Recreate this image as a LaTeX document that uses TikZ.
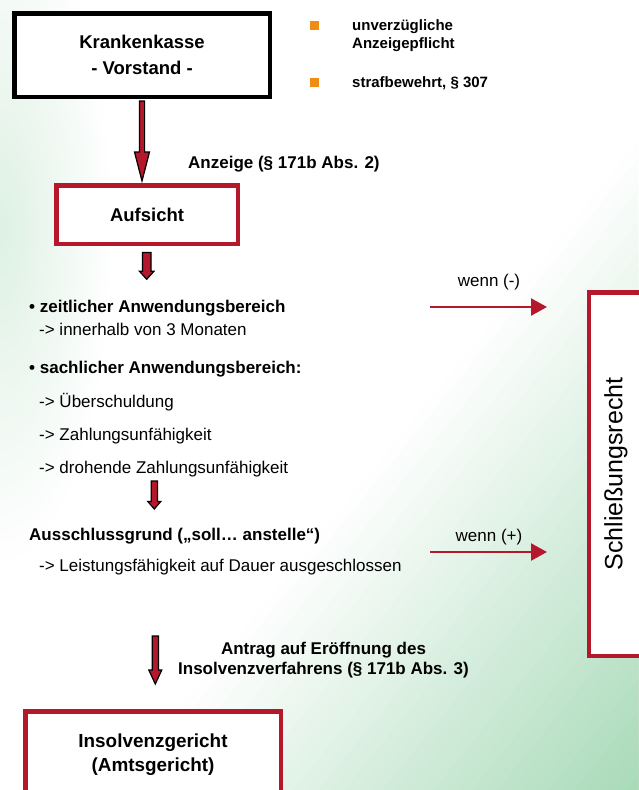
\documentclass[tikz,border=0pt]{standalone}
\usepackage{fontspec}
\setmainfont{Liberation Sans}
\usetikzlibrary{arrows.meta,calc,fadings}

\definecolor{kred}{RGB}{181,23,43}
\definecolor{korange}{RGB}{240,140,20}
\definecolor{bgtint}{RGB}{222,241,228}
\definecolor{bggreen}{RGB}{168,218,184}

\tikzfading[name=tintfade, inner color=transparent!0, outer color=transparent!100]

\tikzset{
  box/.style={draw, line width=4.5pt, fill=white, align=center, font=\bfseries\fontsize{18.5}{25.5}\selectfont},
  redbox/.style={box, draw=kred},
  txt/.style={anchor=base west, inner sep=0pt, font=\fontsize{17}{20}\selectfont},
  txtb/.style={anchor=base west, inner sep=0pt, font=\bfseries\fontsize{17}{20}\selectfont},
  txts/.style={anchor=base west, inner sep=0pt, font=\bfseries\fontsize{15}{18}\selectfont},
  square/.style={fill=korange, minimum size=9pt, inner sep=0pt},
  thinarrow/.style={kred, line width=2.4pt, -{Triangle[length=16pt,width=17pt]}},
  blockfill/.style={fill=kred, draw=black, line width=1.2pt, line join=miter},
}

\newcommand{\blockarrow}[5]{%
  \filldraw[blockfill] let \p1=#1, \p2=#2 in
    (\x1-#3pt,\y1) -- (\x1-#3pt,\y2+#5pt) -- (\x1-#4pt,\y2+#5pt) -- (\x1,\y2)
    -- (\x1+#4pt,\y2+#5pt) -- (\x1+#3pt,\y2+#5pt) -- (\x1+#3pt,\y1) -- cycle;
}

\begin{document}
\begin{tikzpicture}[x=1pt,y=-1pt]
\useasboundingbox (0,0) rectangle (638,790);
\begin{scope}
\clip (0,0) rectangle (638,790);
\fill[white] (0,0) rectangle (638,790);
\foreach \i in {0,...,42} {
  \pgfmathsetmacro\s{1.16+0.02*\i}
  \pgfmathsetmacro\pc{min(100,2.4*\i)}
  \fill[bggreen!\pc!white] (638*\s+1276,-1580) -- (3190,-1580) -- (638,1580) -- (638*\s-1276,1580) -- cycle;
}
\fill[bgtint, path fading=tintfade] (0,230) ellipse [x radius=110, y radius=330];
\end{scope}

\node[box, minimum width=255.5pt, minimum height=83.5pt] (kk) at (142,55) {Krankenkasse\\- Vorstand -};
\node[redbox, minimum width=181.5pt, minimum height=58.5pt] (auf) at (147,214.5) {Aufsicht};
\node[redbox, minimum width=255.5pt, minimum height=87pt, font=\bfseries\fontsize{18.9}{23.4}\selectfont] (ig) at (153,754.8) {Insolvenzgericht\\(Amtsgericht)};
\node[redbox, rotate=90, minimum width=363.5pt, minimum height=54pt, font=\fontsize{25}{30}\selectfont] (sr) at (616,474) {Schließungsrecht};

\node[square] (sq1) at (314.5,25) {};
\node[square] (sq2) at (314.5,82.5) {};
\node[txts] (pf1) at (352,30) {unverzügliche};
\node[txts] (pf2) at (352,48.5) {Anzeigepflicht};
\node[txts] (stb) at (352,87) {strafbewehrt, § 307};

\node[txtb] (anz) at (188,168) {Anzeige (§ 171b Abs. 2)};

\node[txtb] (zt1) at (29,312.5) {\textbullet\ zeitlicher Anwendungsbereich};
\node[txt] (zt2) at (39,335) {-> innerhalb von 3 Monaten};
\node[txtb] (sa1) at (29,373.3) {\textbullet\ sachlicher Anwendungsbereich:};
\node[txt] (sa2) at (39,407.7) {-> Überschuldung};
\node[txt] (sa3) at (39,440) {-> Zahlungsunfähigkeit};
\node[txt] (sa4) at (39,473.3) {-> drohende Zahlungsunfähigkeit};
\node[txtb] (au1) at (29,540) {Ausschlussgrund („soll… anstelle“)};
\node[txt] (au2) at (39,571.7) {-> Leistungsfähigkeit auf Dauer ausgeschlossen};
\node[align=center, inner sep=0pt, font=\bfseries\fontsize{17}{19.7}\selectfont] (antr) at (323.5,659.8) {Antrag auf Eröffnung des\\Insolvenzverfahrens (§ 171b Abs. 3)};

\node[txt, anchor=base] (wm) at (489,286.7) {wenn (-)};
\node[txt, anchor=base] (wp) at (489,541.7) {wenn (+)};

\coordinate (a2s) at (146.7,252.5);
\coordinate (a2e) at (146.7,279.3);
\coordinate (a3s) at (154.3,481);
\coordinate (a3e) at (154.3,509);
\coordinate (a4s) at (155.3,636);
\coordinate (a4e) at (155.3,684);
\coordinate (wms) at (430,307);
\coordinate (wme) at (547,307);
\coordinate (wps) at (430,552);
\coordinate (wpe) at (547,552);

\blockarrow{([yshift=-2pt]kk.south)}{([yshift=2pt]auf.north)}{2.6}{7.5}{29}
\blockarrow{(a2s)}{(a2e)}{4.3}{7.2}{8}
\blockarrow{(a3s)}{(a3e)}{3.1}{6.5}{7.5}
\blockarrow{(a4s)}{(a4e)}{3.1}{6.5}{14}

\draw[thinarrow] (wms) -- (wme);
\draw[thinarrow] (wps) -- (wpe);
\end{tikzpicture}
\end{document}
